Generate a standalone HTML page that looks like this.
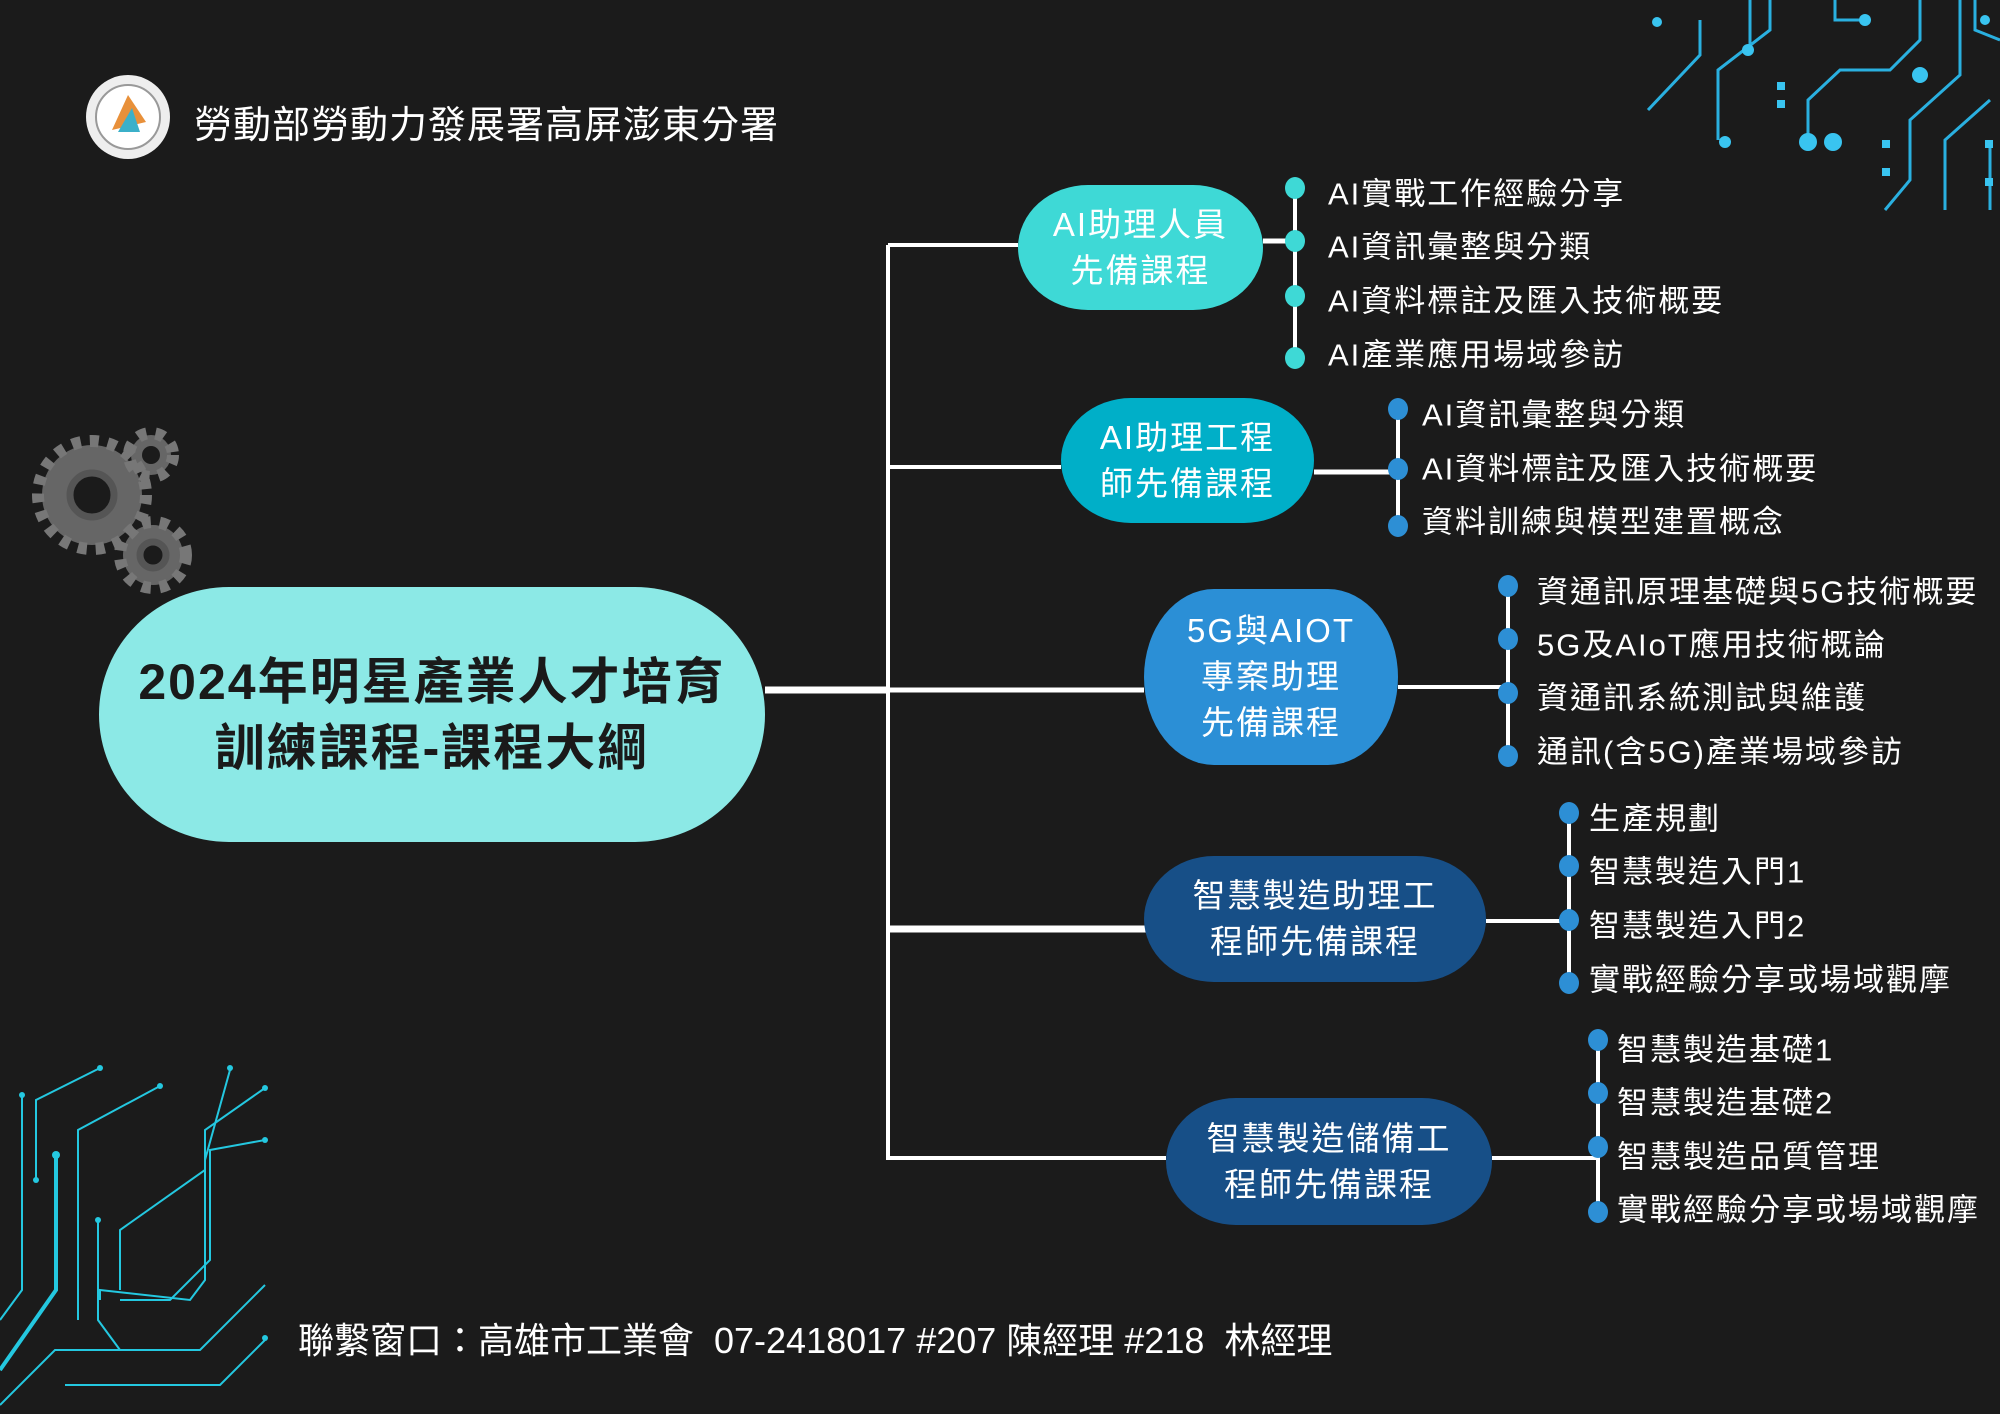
<!DOCTYPE html>
<html><head><meta charset="utf-8"><style>
body{margin:0;width:2000px;height:1414px;background:#1b1b1b;overflow:hidden;position:relative;font-family:"Liberation Sans","Noto Sans CJK TC",sans-serif;color:#fff}
.a{position:absolute}
.box{position:absolute;display:flex;align-items:center;justify-content:center;text-align:center;color:#fff;font-size:33px;line-height:46px;letter-spacing:2px;border-radius:70px/50%}
.t{position:absolute;font-size:31px;color:#fff;letter-spacing:2px;white-space:nowrap;transform:translateY(-50%)}
</style></head><body>
<svg class="a" style="left:0;top:0" width="2000" height="1414">
<g stroke="#fff" fill="none">
<line x1="888" y1="245" x2="888" y2="1160" stroke-width="4"/>
<line x1="765" y1="690" x2="890" y2="690" stroke-width="7"/>
<line x1="888" y1="245" x2="1018" y2="245" stroke-width="4"/>
<line x1="888" y1="467" x2="1061" y2="467" stroke-width="4"/>
<line x1="888" y1="690" x2="1144" y2="690" stroke-width="5"/>
<line x1="886" y1="929" x2="1160" y2="929" stroke-width="7"/>
<line x1="888" y1="1158" x2="1166" y2="1158" stroke-width="4"/>
<line x1="1263" y1="241" x2="1295" y2="241" stroke-width="5"/>
<line x1="1295" y1="188" x2="1295" y2="361" stroke-width="4"/>
<line x1="1314" y1="472" x2="1398" y2="472" stroke-width="5"/>
<line x1="1398" y1="409" x2="1398" y2="526" stroke-width="4"/>
<line x1="1398" y1="687" x2="1508" y2="687" stroke-width="4"/>
<line x1="1508" y1="584" x2="1508" y2="756" stroke-width="4"/>
<line x1="1486" y1="921" x2="1569" y2="921" stroke-width="4"/>
<line x1="1569" y1="811" x2="1569" y2="985" stroke-width="4"/>
<line x1="1492" y1="1158" x2="1598" y2="1158" stroke-width="4"/>
<line x1="1598" y1="1040" x2="1598" y2="1212" stroke-width="4"/>
</g>
<g fill="#3ed9d6"><ellipse cx="1295" cy="188" rx="10" ry="11"/><ellipse cx="1295" cy="241" rx="10" ry="11"/><ellipse cx="1295" cy="296" rx="10" ry="11"/><ellipse cx="1295" cy="358" rx="10" ry="11"/></g>
<g fill="#2d8fd5">
<ellipse cx="1398" cy="409" rx="10" ry="11"/><ellipse cx="1398" cy="469" rx="10" ry="11"/><ellipse cx="1398" cy="526" rx="10" ry="11"/>
<ellipse cx="1508" cy="586" rx="10" ry="11"/><ellipse cx="1508" cy="639" rx="10" ry="11"/><ellipse cx="1508" cy="693" rx="10" ry="11"/><ellipse cx="1508" cy="756" rx="10" ry="11"/>
<ellipse cx="1569" cy="813" rx="10" ry="11"/><ellipse cx="1569" cy="866" rx="10" ry="11"/><ellipse cx="1569" cy="920" rx="10" ry="11"/><ellipse cx="1569" cy="983" rx="10" ry="11"/>
<ellipse cx="1598" cy="1040" rx="10" ry="11"/><ellipse cx="1598" cy="1093" rx="10" ry="11"/><ellipse cx="1598" cy="1147" rx="10" ry="11"/><ellipse cx="1598" cy="1212" rx="10" ry="11"/>
</g>
<g fill="#666">
<circle cx="92" cy="495" r="50"/><circle cx="153" cy="555" r="30"/><circle cx="151" cy="455" r="20"/>
</g>
<g fill="none" stroke="#777" stroke-width="12" stroke-dasharray="9 9"><circle cx="92" cy="495" r="54"/><circle cx="153" cy="555" r="33"/><circle cx="151" cy="455" r="22"/></g>
<g fill="#1b1b1b"><circle cx="92" cy="495" r="22"/><circle cx="153" cy="555" r="13"/><circle cx="151" cy="455" r="9"/></g>
<g fill="none" stroke="#555" stroke-width="7"><circle cx="92" cy="495" r="22"/><circle cx="153" cy="555" r="13"/></g>
<g fill="none" stroke="#24c8e0" stroke-width="2">
<path d="M22 1095 V1290 L0 1320"/><path d="M36 1180 V1100 L100 1068"/><path d="M56 1155 V1290 L0 1370"/>
<path d="M78 1320 V1130 L160 1086"/><path d="M98 1220 V1320 L120 1350"/><path d="M120 1290 V1230 L205 1170 V1160 L230 1070"/>
<path d="M100 1300 V1290 L190 1300 L205 1280 V1130 L265 1088"/><path d="M120 1300 L170 1300 L210 1260 V1150 L265 1140"/>
<path d="M0 1405 L55 1350 H200 L265 1285"/><path d="M65 1385 H220 L265 1340"/>
</g>
<g fill="none" stroke="#24c8e0" stroke-width="4"><path d="M56 1155 V1290 L0 1370"/></g>
<g fill="#24c8e0"><circle cx="22" cy="1095" r="3"/><circle cx="100" cy="1068" r="3"/><circle cx="56" cy="1155" r="4"/><circle cx="160" cy="1086" r="3"/><circle cx="230" cy="1068" r="3"/><circle cx="265" cy="1088" r="3"/><circle cx="265" cy="1140" r="3"/><circle cx="265" cy="1338" r="3"/><circle cx="98" cy="1220" r="3"/><circle cx="36" cy="1180" r="3"/></g>
<g fill="none" stroke="#2ab0e0" stroke-width="3">
<path d="M1648 110 L1700 55 V20"/><path d="M1718 140 V70 L1770 30 V0"/><path d="M1750 0 V50"/>
<path d="M1808 140 V100 L1840 70 H1890 L1920 40 V0"/><path d="M1835 0 V20 L1860 20"/>
<path d="M1885 210 L1910 180 V120 L1960 75 V0"/><path d="M1945 210 V140 L1990 100"/><path d="M1990 140 V210"/><path d="M1975 0 V30 L2000 40"/>
</g>
<g fill="#39c4f0"><circle cx="1657" cy="22" r="5"/><circle cx="1748" cy="50" r="6"/><circle cx="1725" cy="142" r="6"/><circle cx="1808" cy="142" r="9"/><circle cx="1833" cy="142" r="9"/><circle cx="1920" cy="75" r="8"/><circle cx="1865" cy="20" r="6"/><circle cx="1985" cy="20" r="5"/><rect x="1777" y="82" width="8" height="8"/><rect x="1777" y="100" width="8" height="8"/><rect x="1882" y="140" width="8" height="8"/><rect x="1882" y="168" width="8" height="8"/><rect x="1985" y="140" width="8" height="8"/><rect x="1985" y="178" width="8" height="8"/></g>
<circle cx="128" cy="117" r="42" fill="#eee"/><circle cx="128" cy="117" r="32" fill="#fff" stroke="#999" stroke-width="2"/>
<path d="M112 130 L128 95 L146 122 Z" fill="#e8903a"/><path d="M118 132 L132 108 L140 132 Z" fill="#3bb0c9"/>
</svg>
<div class="a" style="left:194px;top:94px;font-size:38px;letter-spacing:1px;white-space:nowrap">勞動部勞動力發展署高屏澎東分署</div>
<div class="box" style="left:99px;top:587px;width:666px;height:255px;background:#8ce9e6;color:#1a1a1a;font-weight:bold;font-size:50px;line-height:66px;letter-spacing:2px;border-radius:130px/50%">2024年明星產業人才培育<br>訓練課程-課程大綱</div>
<div class="box" style="left:1018px;top:185px;width:245px;height:125px;background:#3ed9d6">AI助理人員<br>先備課程</div>
<div class="box" style="left:1061px;top:398px;width:253px;height:125px;background:#00afc8">AI助理工程<br>師先備課程</div>
<div class="box" style="left:1144px;top:589px;width:254px;height:176px;background:#2b8fd6">5G與AIOT<br>專案助理<br>先備課程</div>
<div class="box" style="left:1144px;top:856px;width:342px;height:126px;background:#174f87">智慧製造助理工<br>程師先備課程</div>
<div class="box" style="left:1166px;top:1098px;width:326px;height:127px;background:#174f87">智慧製造儲備工<br>程師先備課程</div>
<div class="t" style="left:1328px;top:191px">AI實戰工作經驗分享</div>
<div class="t" style="left:1328px;top:244px">AI資訊彙整與分類</div>
<div class="t" style="left:1328px;top:298px">AI資料標註及匯入技術概要</div>
<div class="t" style="left:1328px;top:352px">AI產業應用場域參訪</div>
<div class="t" style="left:1422px;top:412px">AI資訊彙整與分類</div>
<div class="t" style="left:1422px;top:466px">AI資料標註及匯入技術概要</div>
<div class="t" style="left:1422px;top:519px">資料訓練與模型建置概念</div>
<div class="t" style="left:1537px;top:589px">資通訊原理基礎與5G技術概要</div>
<div class="t" style="left:1537px;top:642px">5G及AIoT應用技術概論</div>
<div class="t" style="left:1537px;top:695px">資通訊系統測試與維護</div>
<div class="t" style="left:1537px;top:749px">通訊(含5G)產業場域參訪</div>
<div class="t" style="left:1589px;top:816px">生產規劃</div>
<div class="t" style="left:1589px;top:869px">智慧製造入門1</div>
<div class="t" style="left:1589px;top:923px">智慧製造入門2</div>
<div class="t" style="left:1589px;top:977px">實戰經驗分享或場域觀摩</div>
<div class="t" style="left:1617px;top:1047px">智慧製造基礎1</div>
<div class="t" style="left:1617px;top:1100px">智慧製造基礎2</div>
<div class="t" style="left:1617px;top:1154px">智慧製造品質管理</div>
<div class="t" style="left:1617px;top:1207px">實戰經驗分享或場域觀摩</div>
<div class="t" style="left:298px;top:1338px;font-size:36px;letter-spacing:0">聯繫窗口：高雄市工業會&nbsp; 07-2418017 #207 陳經理 #218&nbsp; 林經理</div>
</body></html>
